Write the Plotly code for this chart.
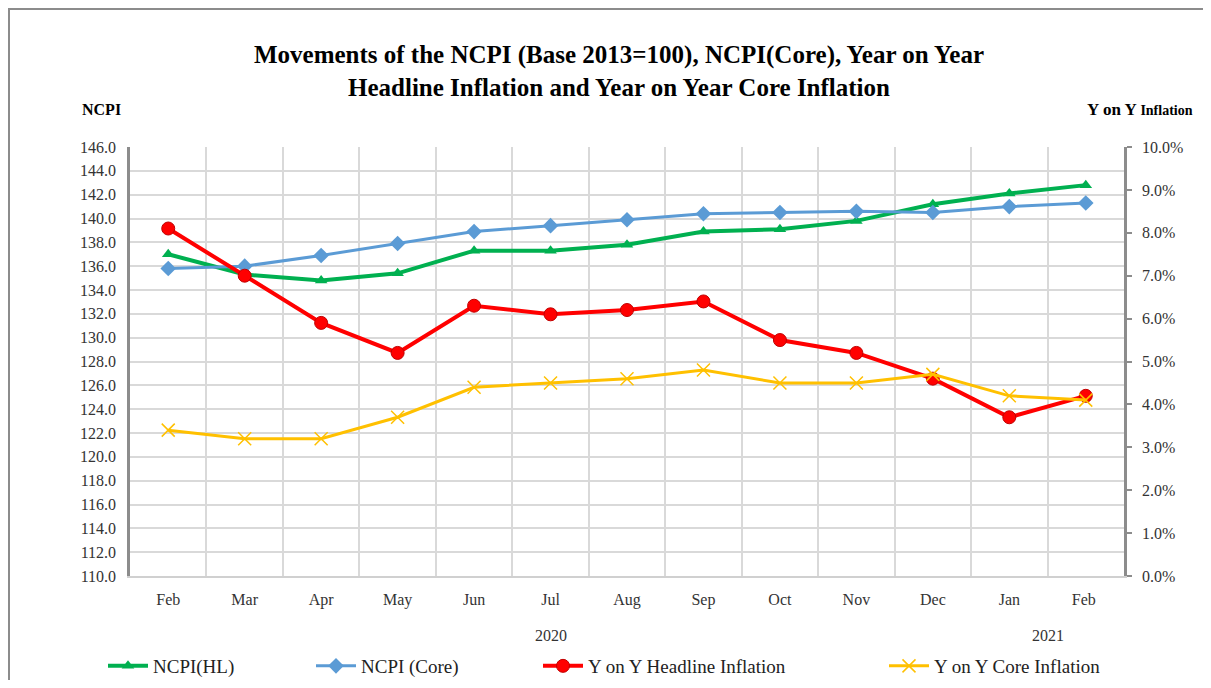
import plotly.graph_objects as go

months = ["Feb", "Mar", "Apr", "May", "Jun", "Jul", "Aug", "Sep", "Oct", "Nov", "Dec", "Jan", "Feb "]
ncpi_hl = [137.0, 135.3, 134.8, 135.4, 137.3, 137.3, 137.8, 138.9, 139.1, 139.8, 141.2, 142.1, 142.8]
ncpi_core = [135.8, 136.0, 136.9, 137.9, 138.9, 139.4, 139.9, 140.4, 140.5, 140.6, 140.5, 141.0, 141.3]
yoy_headline = [8.1, 7.0, 5.9, 5.2, 6.3, 6.1, 6.2, 6.4, 5.5, 5.2, 4.6, 3.7, 4.2]
yoy_core = [3.4, 3.2, 3.2, 3.7, 4.4, 4.5, 4.6, 4.8, 4.5, 4.5, 4.7, 4.2, 4.1]
left_ticks = [110 + 2 * i for i in range(19)]
left_labels = [f"{v:.1f}" for v in left_ticks]
right_ticks = list(range(11))
right_labels = [f"{v:.1f}%" for v in right_ticks]

SERIF = "Liberation Serif, Times New Roman, serif"
GREEN, BLUE, RED, GOLD = "#00B050", "#5B9BD5", "#FF0000", "#FFC000"

fig = go.Figure()
fig.add_trace(go.Scatter(x=months, y=ncpi_hl, name="NCPI(HL)", mode="lines+markers",
                         line=dict(color=GREEN, width=4),
                         marker=dict(symbol="triangle-up", size=11, color=GREEN),
                         legend="legend"))
fig.add_trace(go.Scatter(x=months, y=ncpi_core, name="NCPI (Core)", mode="lines+markers",
                         line=dict(color=BLUE, width=3),
                         marker=dict(symbol="diamond", size=12, color=BLUE),
                         legend="legend2"))
fig.add_trace(go.Scatter(x=months, y=yoy_headline, name="Y on Y Headline Inflation", mode="lines+markers",
                         line=dict(color=RED, width=4),
                         marker=dict(symbol="circle", size=13, color=RED, line=dict(color="#C00000", width=1)),
                         yaxis="y2", legend="legend3"))
fig.add_trace(go.Scatter(x=months, y=yoy_core, name="Y on Y Core Inflation", mode="lines+markers",
                         line=dict(color=GOLD, width=3),
                         marker=dict(symbol="x-thin", size=13, color=GOLD, line=dict(color=GOLD, width=1.5)),
                         yaxis="y2", legend="legend4"))

# page offset of the figure (body margin)
OFF = 8
W, H = 1203, 672
PX0, PX1, PY0, PY1 = 130, 1124, 147, 576   # plot area in page pixels
L, R = PX0 - OFF, W - (PX1 - OFF)
T, B = PY0 - OFF, H - (PY1 - OFF)
PW, PH = PX1 - PX0, PY1 - PY0

def px_x(x):
    return (x - PX0) / PW

def px_y(y):
    return (PY1 - y) / PH

leg_common = dict(orientation="h", yanchor="middle", y=px_y(666), xanchor="left",
                  font=dict(family=SERIF, size=19, color="#222"), bgcolor="rgba(0,0,0,0)",
                  itemwidth=40)

fig.update_layout(
    width=W, height=H,
    margin=dict(l=L, r=R, t=T, b=B, autoexpand=False),
    paper_bgcolor="white", plot_bgcolor="white",
    title=dict(text="<b>Movements of the NCPI (Base 2013=100), NCPI(Core), Year on Year<br>Headline Inflation and Year on Year Core Inflation</b>",
               x=(619 - OFF) / W, xanchor="center", y=1 - 55 / H, yanchor="top",
               font=dict(family=SERIF, size=25, color="black")),
    xaxis=dict(type="category", range=[-0.5, len(months) - 0.5], tickson="boundaries",
               showgrid=True, gridcolor="#D9D9D9", gridwidth=1.5,
               showline=True, linecolor="#D0D0D0", linewidth=1.5, ticks="",
               ticklabelstandoff=8,
               tickfont=dict(family=SERIF, size=16, color="#333")),
    yaxis=dict(range=[110, 146], tickvals=left_ticks, ticktext=left_labels,
               showgrid=True, gridcolor="#D9D9D9", gridwidth=1.5,
               showline=True, linecolor="#8C8C8C", linewidth=2.5, ticks="", zeroline=False,
               ticklabelstandoff=8,
               tickfont=dict(family=SERIF, size=16, color="#333")),
    yaxis2=dict(range=[0, 10], tickvals=right_ticks, ticktext=right_labels,
                overlaying="y", side="right", showgrid=False, zeroline=False,
                showline=True, linecolor="#8C8C8C", linewidth=2.5,
                ticks="outside", ticklen=5, tickcolor="#8C8C8C", tickwidth=1.5,
                ticklabelstandoff=7,
                tickfont=dict(family=SERIF, size=16, color="#333")),
    legend=dict(leg_common, x=px_x(103)),
    legend2=dict(leg_common, x=px_x(311)),
    legend3=dict(leg_common, x=px_x(538)),
    legend4=dict(leg_common, x=px_x(884)),
    showlegend=True,
)

fig.add_annotation(text="<b>NCPI</b>", xref="paper", yref="paper", x=px_x(80), y=px_y(110),
                   xanchor="left", yanchor="middle", showarrow=False,
                   font=dict(family=SERIF, size=16, color="black"))
fig.add_annotation(text="<b>Y on Y <span style='font-size:14px'>Inflation</span></b>", xref="paper", yref="paper",
                   x=px_x(1195), y=px_y(110), xanchor="right", yanchor="middle", showarrow=False,
                   font=dict(family=SERIF, size=17, color="black"))
fig.add_annotation(text="2020", xref="x", yref="paper", x=5, y=px_y(635),
                   xanchor="center", yanchor="middle", showarrow=False,
                   font=dict(family=SERIF, size=16, color="#333"))
fig.add_annotation(text="2021", xref="x", yref="paper", x=11.5, y=px_y(635),
                   xanchor="center", yanchor="middle", showarrow=False,
                   font=dict(family=SERIF, size=16, color="#333"))

fig.add_shape(type="rect", xref="paper", yref="paper", layer="below",
              x0=px_x(9), x1=px_x(1220), y0=px_y(700), y1=px_y(9),
              line=dict(color="#8C8C8C", width=2), fillcolor="rgba(0,0,0,0)")

fig.write_html("out.html")
